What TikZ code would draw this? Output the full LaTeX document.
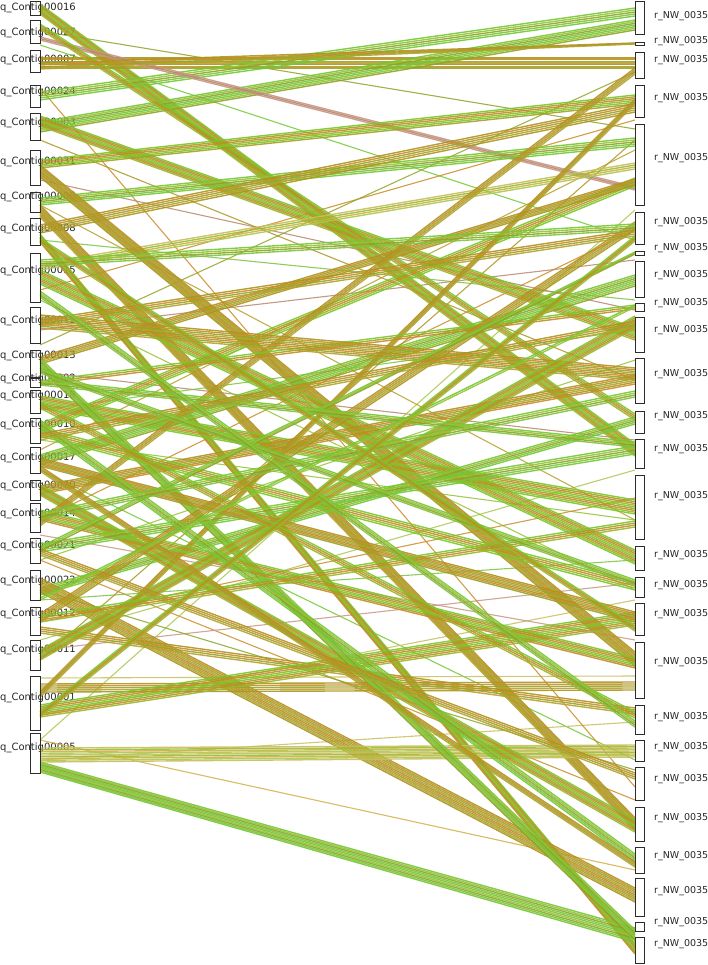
\documentclass[tikz,border=0pt]{standalone}
\usepackage{fontspec}
\setmainfont{DejaVu Sans}
\begin{document}
\definecolor{palM0}{RGB}{120,200,40}
\definecolor{palM1}{RGB}{165,160,35}
\definecolor{palM2}{RGB}{195,140,40}
\definecolor{palM3}{RGB}{150,185,40}
\definecolor{palG0}{RGB}{115,200,50}
\definecolor{palG1}{RGB}{150,195,55}
\definecolor{palG2}{RGB}{140,165,40}
\definecolor{palG3}{RGB}{125,195,60}
\definecolor{palO0}{RGB}{170,150,30}
\definecolor{palO1}{RGB}{205,140,40}
\definecolor{palO2}{RGB}{150,165,40}
\definecolor{palO3}{RGB}{185,160,45}
\definecolor{palR0}{RGB}{200,150,130}
\definecolor{palR1}{RGB}{185,135,110}
\definecolor{palR2}{RGB}{200,150,130}
\definecolor{palR3}{RGB}{185,135,110}
\definecolor{palY0}{RGB}{200,190,90}
\definecolor{palY1}{RGB}{150,190,50}
\definecolor{palY2}{RGB}{210,175,70}
\definecolor{palY3}{RGB}{170,200,80}
\definecolor{barc}{RGB}{45,45,45}
% a synteny ribbon: left y1, left y2, right y1, right y2, palette
\newcommand\band[5]{%
  \pgfmathtruncatemacro\nn{max(1,round(max(abs(#2-#1),abs(#4-#3))/1.8))}%
  \foreach \k in {0,...,\nn}{%
    \pgfmathsetmacro\ta{\k/\nn}%
    \pgfmathtruncatemacro\ci{mod(\k,4)}%
    \draw[syn, draw=pal#5\ci] (40,{#1+(#2-#1)*\ta}) -- (635,{#3+(#4-#3)*\ta});
  }}
% a single thin alignment line
\newcommand\aln[3]{\draw[thin, draw=#3] (40,#1) -- (635,#2);}
\begin{tikzpicture}[x=1pt,y=-1pt,
  syn/.style={line width=1.4pt, opacity=0.9},
  thin/.style={line width=1.1pt, opacity=0.85},
  lbar/.style={draw=barc, line width=0.9pt, minimum width=10pt, inner sep=0pt, anchor=north},
  rbar/.style={draw=barc, fill=white, line width=0.9pt, minimum width=9pt, inner sep=0pt, anchor=north},
  llab/.style={anchor=west, inner sep=0pt, font=\fontsize{10}{10}\selectfont, text=black!85},
  rlab/.style={anchor=west, inner sep=0pt, font=\fontsize{9.5}{10}\selectfont, text=black!85}]
\useasboundingbox (0,0) rectangle (708,965);
% left labels
\foreach \y/\t [count=\i] in {8/00016,33/00027,60/00007,92/00024,123/00003,162/00031,197/00006,229/00008,271/00015,321/00019,356/00013,379/00002,396/00018,425/00010,458/00017,486/00020,514/00014,546/00021,581/00022,614/00012,650/00011,698/00001,748/00005}
  \node[llab] (LL\i) at (0,\y) {q\_Contig\t};
% right labels
\foreach \y [count=\i] in {16,41,60,98,158,222,248,275,303,330,374,416,449,496,555,585,614,662,717,747,779,818,856,891,922,944}
  \node[rlab] (RL\i) at (654,\y) {r\_NW\_0035};
% thin single lines
\aln{45}{240}{palG0}
\aln{140}{380}{palO0}
\aln{240}{300}{palG3}
\aln{290}{120}{palO1}
\aln{372}{440}{palR1}
\aln{440}{520}{palG1}
\aln{470}{760}{palG0}
\aln{520}{230}{palO1}
\aln{560}{800}{palO1}
\aln{600}{560}{palG3}
\aln{640}{470}{palY3}
\aln{660}{140}{palO0}
\aln{715}{600}{palY0}
\aln{740}{870}{palY2}
\aln{760}{722}{palY0}
\aln{740}{210}{palY3}
\aln{678}{676}{palY0}
\aln{205}{520}{palO3}
\aln{300}{590}{palG1}
\aln{31}{129}{palG2}
\aln{650}{583}{palR0}
\aln{88}{787}{palO1}
\aln{345}{72}{palO2}
\aln{330}{260}{palR1}
\aln{410}{330}{palG3}
\aln{535}{640}{palR0}
\aln{590}{770}{palG2}
\aln{180}{310}{palR1}
\aln{450}{150}{palO3}
\aln{560}{360}{palG1}
\aln{622}{498}{palO1}
% synteny ribbons
\band{4}{14}{444}{456}{M}
\band{58}{68}{58}{68}{O}
\band{92}{100}{8}{16}{G}
\band{122}{132}{20}{30}{G}
\band{116}{126}{328}{340}{M}
\band{37}{40}{187}{190}{R}
\band{24}{29}{414}{420}{M}
\band{160}{168}{95}{104}{M}
\band{198}{205}{138}{146}{G}
\band{225}{233}{104}{112}{O}
\band{264}{270}{163}{169}{Y}
\band{165}{177}{652}{666}{O}
\band{205}{217}{818}{830}{O}
\band{234}{242}{944}{954}{M}
\band{270}{284}{550}{564}{M}
\band{396}{408}{500}{514}{M}
\band{455}{465}{275}{286}{G}
\band{486}{494}{375}{384}{O}
\band{588}{595}{417}{424}{G}
\band{578}{592}{888}{902}{O}
\band{684}{692}{682}{690}{O}
\band{748}{762}{745}{757}{Y}
\band{762}{772}{928}{942}{G}
\band{627}{633}{708}{714}{O}
\band{705}{717}{612}{625}{M}
\band{424}{432}{178}{186}{M}
\band{692}{697}{99}{104}{O}
\band{357}{364}{179}{185}{O}
\band{485}{495}{820}{832}{M}
\band{358}{368}{930}{940}{G}
\band{510}{520}{658}{668}{M}
\band{520}{526}{68}{74}{O}
\band{381}{385}{305}{309}{M}
\band{315}{328}{368}{380}{O}
\band{428}{436}{582}{590}{M}
\band{544}{552}{446}{454}{G}
\band{650}{660}{316}{328}{M}
\band{614}{622}{222}{230}{O}
\band{547}{551}{252}{254}{G}
\band{458}{466}{612}{622}{O}
\band{402}{408}{712}{718}{M}
\band{420}{428}{854}{862}{G}
\band{63}{69}{43}{44}{O}
\band{260}{266}{224}{230}{G}
\band{320}{326}{230}{236}{O}
\band{380}{385}{442}{447}{G}
\band{434}{440}{321}{327}{O}
\band{513}{519}{391}{397}{G}
\band{549}{555}{773}{779}{O}
\band{616}{622}{521}{527}{M}
\band{368}{373}{580}{585}{G}
\band{238}{243}{626}{631}{M}
\band{291}{297}{721}{727}{G}
\band{466}{471}{862}{867}{O}
\band{712}{717}{236}{241}{M}
\band{598}{600}{305}{307}{G}
% left bars
\foreach \a/\b [count=\i] in {1/15,20/43,50/72,85/107,113/140,150/185,192/212,218/245,253/302,307/343,350/377,378/387,390/413,418/443,447/473,480/500,503/532,538/563,570/600,607/635,640/670,676/730,733/773}
  \node[lbar, minimum height={\b-\a}] (L\i) at (35,\a) {};
% right bars
\foreach \a/\b [count=\i] in {1/34,42/45,52/78,85/117,124/205,212/244,251/255,261/297,303/311,317/352,358/403,411/433,439/468,475/539,546/570,577/597,603/635,642/698,705/734,740/761,767/800,807/841,847/873,878/916,922/931,937/963}
  \node[rbar, minimum height={\b-\a}] (R\i) at (640,\a) {};
\end{tikzpicture}
\end{document}
